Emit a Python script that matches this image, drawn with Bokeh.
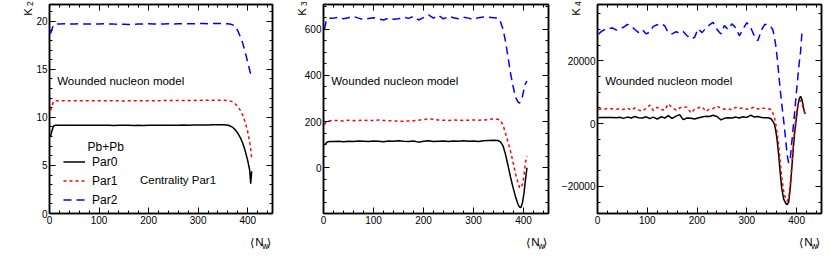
import math
from bokeh.plotting import figure
from bokeh.models import (Range1d, LinearAxis, SingleIntervalTicker, Label, Legend, LegendItem,
                          CustomJSTickFormatter)
from bokeh.layouts import row, column
from bokeh.embed import file_html
from bokeh.resources import INLINE

NAN = float("nan")

# ---------------- data ----------------
series_names = ["Par0", "Par1", "Par2"]
legend_header = "Pb+Pb"
model_text = "Wounded nucleon model"
centrality_text = "Centrality Par1"
y_title = "K"
y_title_subs = ["2", "3", "4"]
x_title = ["\u27e8", "N", "w", "\u27e9"]

# K2 panel
x_k2 = [2, 5, 8, 12, 20, 30, 40, 50, 60, 70, 80, 90, 100, 110, 120, 130, 140, 150, 160, 170,
        180, 190, 200, 210, 220, 230, 240, 250, 260, 270, 280, 290, 300, 310, 320, 330, 340, 350,
        358, 364, 370, 375, 380, 385, 390, 395, 400, 404, 406, 408]
k2_par0 = [8.0, 8.6, 9.1, 9.18, 9.18, 9.19, 9.18, 9.17, 9.18, 9.19, 9.18, 9.17, 9.18, 9.18, 9.17,
           9.16, 9.17, 9.18, 9.17, 9.16, 9.17, 9.16, 9.17, 9.18, 9.17, 9.18, 9.19, 9.18, 9.19, 9.2,
           9.19, 9.2, 9.21, 9.2, 9.21, 9.22, 9.22, 9.22,
           9.2, 9.12, 8.95, 8.7, 8.35, 7.9, 7.3, 6.5, 5.5, 4.5, 3.1, 4.4]
k2_par1 = [10.7, 11.2, 11.65, 11.72, 11.72, 11.73, 11.72, 11.73, 11.74, 11.73, 11.72, 11.73, 11.74,
           11.73, 11.72, 11.73, 11.72, 11.71, 11.72, 11.73, 11.72, 11.73, 11.74, 11.73, 11.74, 11.75,
           11.74, 11.75, 11.76, 11.75, 11.76, 11.77, 11.76, 11.77, 11.77, 11.78, 11.78, 11.77,
           11.76, 11.72, 11.6, 11.4, 11.1, 10.75, 10.2, 9.5, 8.5, 7.4, 6.7, 5.8]
k2_par2 = [18.7, 19.2, 19.6, 19.7, 19.72, 19.73, 19.71, 19.72, 19.73, 19.72, 19.7, 19.71, 19.72,
           19.73, 19.72, 19.7, 19.69, 19.68, 19.66, 19.67, 19.7, 19.72, 19.73, 19.72, 19.71, 19.72,
           19.73, 19.72, 19.73, 19.74, 19.73, 19.74, 19.75, 19.76, 19.75, 19.76, 19.76, 19.75,
           19.74, 19.72, 19.62, 19.5, 19.0, 18.4, 17.7, 16.8, 15.7, 14.9, 14.5, 14.2]

# K3 panel
x_k3 = [2, 5, 8, 12, 20, 30, 40, 50, 60, 70, 80, 90, 100, 110, 120, 130, 140, 150, 160, 170,
        180, 190, 200, 210, 220, 230, 240, 250, 260, 270, 280, 290, 300, 310, 320, 330, 340,
        349, 354, 359, 364, 369, 374, 379, 384, 389, 392, 395, 398, 401, 404, 407]
k3_par0 = [98, 106, 112, 114, 114, 115, 113, 115, 114, 116, 115, 114, 116, 115, 113, 116, 115, 117,
           115, 114, 116, 111, 115, 117, 114, 115, 116, 114, 116, 115, 117, 115, 116, 114, 117, 118,
           119, 118, 112, 95, 58, 10, -40, -85, -125, -158, -170, -172, -150, -110, -50, 0]
k3_par1 = [187, 198, 203, 204, 204, 205, 203, 206, 204, 205, 206, 204, 205, 207, 205, 204, 203, 202,
           201, 203, 204, 206, 209, 212, 210, 207, 206, 205, 207, 206, 205, 206, 207, 206, 207, 209,
           211, 210, 205, 185, 150, 112, 72, 25, -25, -65, -85, -88, -70, -35, 25, 50]
k3_par2 = [600, 632, 646, 648, 648, 652, 645, 650, 655, 648, 642, 646, 650, 645, 640, 648, 643, 645,
           652, 647, 655, 640, 650, 662, 648, 660, 645, 655, 650, 645, 652, 648, 642, 650, 653, 652,
           650, 648, 632, 600, 548, 480, 410, 355, 305, 285, 280, 290, 310, 340, 365, 375]

# K4 panel
x_k4 = [2, 8, 15, 22, 30, 38, 45, 52, 60, 68, 75, 82, 90, 98, 105, 112, 120, 128, 135, 142, 150,
        158, 165, 172, 180, 188, 195, 202, 210, 218, 225, 232, 240, 248, 255, 262, 270, 278, 285,
        292, 300, 308, 315, 322, 330, 336,
        341, 345, 349, 352, 355, 358, 361, 364, 367, 370, 374, 378, 381, 384, 387, 390, 393, 396,
        399, 402, 405, 408, 411, 414, 417]
k4_par0 = [1900, 2000, 2000, 1950, 2000, 1900, 2050, 1700, 2100, 1800, 2300, 1900, 1800, 2200, 1600,
           2100, 1500, 2200, 1800, 2600, 1700, 2400, 2900, 1300, 1800, 1700, 1500, 1800, 2100, 2400,
           2300, 2700, 2300, 1200, 1700, 1900, 1800, 2100, 1800, 2200, 2000, 2700, 2100, 2300, 2000,
           1900,
           1900, 1800, 1500, 800, 0, -2000, -5500, -10000, -15500, -20500, -24000, -25300, -25800,
           -25000, -21000, -15000, -8500, -3000, 1000, 5000, 7800, 8700, 7500, 5000, 3100]
k4_par1 = [4500, 4800, 4700, 4900, 4700, 4600, 4800, 4500, 5000, 4300, 5000, 4400, 4000, 4900, 5900,
           4200, 5200, 4500, 4300, 6300, 5200, 4300, 5000, 5500, 5200, 3400, 4600, 5000, 5400, 3900,
           4700, 4800, 5600, 4900, 4600, 4800, 4400, 5200, 4800, 5000, 4600, 4900, 5300, 4700, 5100,
           4800,
           4800, 4700, 4500, 3500, 2300, 0, -3000, -7000, -12000, -17000, -21500, -24000, -24700,
           -23500, -19500, -13500, -7500, -2000, 2500, 5800, 7200, 7400, 6200, 4500, 3100]
k4_par2 = [28500, 29400, 30000, 30300, 30500, 29800, 30200, 30700, 31600, 31000, 30000, 29100, 30000,
           28600, 29200, 31000, 31500, 31800, 31200, 29000, 28600, 29300, 28800, 29400, 28000, 27000,
           27500, 30200, 29000, 30500, 31500, 32300, 30000, 28600, 31300, 30000, 31800, 30500, 28000,
           30000, 32200, 30500, 28000, 26400, 30000, 31600,
           31600, 31000, 30700, 30000, 28000, 25000, 21000, 16000, 11000, 6500, 1000, -5000, -10000,
           -12500, -11500, -6500, -1500, 3500, 9000, 14000, 19000, 23000, 29600, NAN, NAN]

# ---------------- style ----------------
FONT = "Liberation Sans"
MATH_FONT = "DejaVu Sans"
COLORS = ["black", "#ff0000", "#0000ff"]
DASHES = ["solid", "3 3", "8 5"]
FIG_H = 256
MB_TOP = 4
MB_BOTTOM = 43
X0, X1 = 0, 450
FH = FIG_H - MB_TOP - MB_BOTTOM


def style_axis(ax, ticker, show_labels=True):
    ax.ticker = ticker
    ax.major_tick_in = 6
    ax.major_tick_out = 0
    ax.minor_tick_in = 3
    ax.minor_tick_out = 0
    ax.axis_line_color = "black"
    ax.axis_line_width = 1.5
    ax.major_tick_line_color = "black"
    ax.minor_tick_line_color = "black"
    if show_labels:
        ax.major_label_text_font = FONT
        ax.major_label_text_font_size = "10px"
        ax.major_label_text_color = "black"
        ax.major_label_standoff = 2
    else:
        ax.formatter = CustomJSTickFormatter(code="return '';")
        ax.major_label_text_font_size = "1px"
        ax.major_label_standoff = 0


def make_panel(width, mbl, mbr, y_rng, y_int, y_minor, x, series):
    y0, y1 = y_rng
    p = figure(width=width, height=FIG_H, x_range=Range1d(X0, X1), y_range=Range1d(y0, y1),
               output_backend="svg", toolbar_location=None,
               min_border_left=mbl, min_border_right=mbr,
               min_border_top=MB_TOP, min_border_bottom=MB_BOTTOM)
    p.grid.visible = False
    p.outline_line_color = "black"
    p.outline_line_width = 1.5
    p.background_fill_color = "white"
    p.border_fill_color = "white"
    style_axis(p.xaxis[0], SingleIntervalTicker(interval=100, num_minor_ticks=5))
    style_axis(p.yaxis[0], SingleIntervalTicker(interval=y_int, num_minor_ticks=y_minor))
    top = LinearAxis()
    style_axis(top, SingleIntervalTicker(interval=100, num_minor_ticks=5), False)
    p.add_layout(top, "above")
    right = LinearAxis()
    style_axis(right, SingleIntervalTicker(interval=y_int, num_minor_ticks=y_minor), False)
    p.add_layout(right, "right")

    rends = []
    for y, c, d in zip(series, COLORS, DASHES):
        rends.append(p.line(x, y, line_color=c, line_width=1.5, line_dash=d))

    fw = width - mbl - mbr

    def text(px, py, t, size, font=FONT, align="left"):
        # px, py: pixel offsets from the frame's top-left corner (inside the frame)
        p.add_layout(Label(x=X0 + px / fw * (X1 - X0), y=y1 - py / FH * (y1 - y0), text=t,
                           text_font=font, text_font_size=size, text_align=align,
                           text_baseline="alphabetic", text_color="black"))

    text(7.7, 76.5, model_text, "11.5px")
    return p, rends, text


widths = [283, 275, 270]
mbls = [49, 40, 39]
mbrs = [11, 10, 7]

p1, r1, t1 = make_panel(widths[0], mbls[0], mbrs[0], (0, 21.74), 5, 5, x_k2, [k2_par0, k2_par1, k2_par2])
p2, r2, t2 = make_panel(widths[1], mbls[1], mbrs[1], (-198, 707), 200, 4, x_k3, [k3_par0, k3_par1, k3_par2])
p3, r3, t3 = make_panel(widths[2], mbls[2], mbrs[2], (-28600, 37960), 20000, 4, x_k4, [k4_par0, k4_par1, k4_par2])

# legend and extra texts in the first panel
t1(38.0, 142.0, legend_header, "12px")
t1(90.5, 175.5, centrality_text, "11.5px")
legend = Legend(items=[LegendItem(label=n, renderers=[r]) for n, r in zip(series_names, r1)],
                location=(14, 4), padding=0, margin=0, spacing=0,
                label_height=19, glyph_height=19, glyph_width=22, label_standoff=7,
                label_text_font=FONT, label_text_font_size="12px", label_text_color="black",
                background_fill_alpha=0, border_line_alpha=0)
p1.add_layout(legend)

# ---- transparent overlay carrying the axis titles that sit outside the frames ----
TOTAL_W = sum(widths)
ov = figure(width=TOTAL_W, height=FIG_H, x_range=Range1d(0, TOTAL_W), y_range=Range1d(FIG_H, 0),
            output_backend="svg", toolbar_location=None, min_border=0,
            x_axis_type=None, y_axis_type=None)
ov.grid.visible = False
ov.outline_line_color = None
ov.background_fill_color = None
ov.border_fill_color = None
ov.styles = {"margin-top": f"-{FIG_H}px"}


def otext(x, y, t, size, font=FONT, align="left", angle=0.0):
    ov.add_layout(Label(x=x, y=y, text=t, text_font=font, text_font_size=size, text_align=align,
                        text_baseline="alphabetic", angle=angle, text_color="black"))


left = 0
for i in range(3):
    fl = left + mbls[i]
    fr = left + widths[i] - mbrs[i]
    fb = MB_TOP + FH
    # y title: K with subscript, rotated, at the top end of the axis
    otext(fl - 21.5, MB_TOP + 3.5, y_title, "11.5px", align="right", angle=math.pi / 2)
    otext(fl - 19.3, MB_TOP - 3.3, y_title_subs[i], "8.5px", align="right", angle=math.pi / 2)
    # x title <N_w> at the right end of the axis
    otext(fr - 18.0, fb + 29.0, x_title[0], "11.5px", font=MATH_FONT, align="right")
    otext(fr - 9.0, fb + 28.7, x_title[1], "11.5px", align="right")
    otext(fr - 4.0, fb + 32.0, x_title[2], "8.5px", align="right")
    otext(fr - 1.2, fb + 29.0, x_title[3], "11.5px", font=MATH_FONT, align="right")
    left += widths[i]

layout = column(row(p1, p2, p3), ov)

open("out.html", "w").write(file_html(layout, INLINE))
